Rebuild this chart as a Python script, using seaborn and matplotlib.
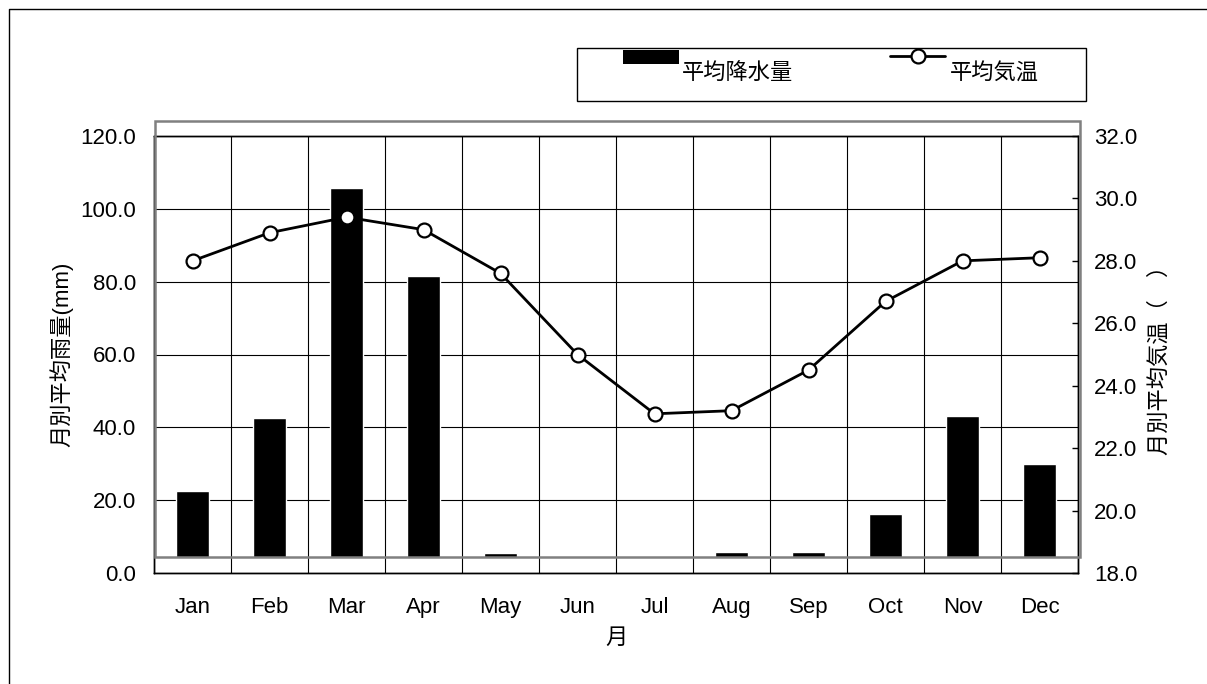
import numpy as np
import pandas as pd
import matplotlib
matplotlib.use("Agg")
import matplotlib.pyplot as plt
from matplotlib.patches import Rectangle
from matplotlib.lines import Line2D
from matplotlib.ticker import FormatStrFormatter
import seaborn as sns

# Monthly climate normals
months = ["Jan", "Feb", "Mar", "Apr", "May", "Jun",
          "Jul", "Aug", "Sep", "Oct", "Nov", "Dec"]
rainfall = [22.4, 42.7, 105.6, 81.6, 5.5, 0.0, 0.0, 5.8, 5.9, 16.2, 43.2, 30.0]
temperature = [28.0, 28.9, 29.4, 29.0, 27.6, 25.0, 23.1, 23.2, 24.5, 26.7, 28.0, 28.1]

rain_ticks = [0, 20, 40, 60, 80, 100, 120]
temp_ticks = [18, 20, 22, 24, 26, 28, 30, 32]

rain_label = "月別平均雨量(mm)"
temp_label = "月別平均気温（　）"
month_label = "月"
legend_rain = "平均降水量"
legend_temp = "平均気温"

sns.set_style("white")
plt.rcParams["font.family"] = ["Liberation Sans", "Noto Sans CJK JP"]
plt.rcParams["font.size"] = 16
plt.rcParams["text.color"] = "black"
plt.rcParams["axes.labelcolor"] = "black"
plt.rcParams["xtick.color"] = "black"
plt.rcParams["ytick.color"] = "black"

W, H = 1207, 684
fig = plt.figure(figsize=(W / 100, H / 100), dpi=100)


def fx(px):
    return px / W


def fy(py):
    return 1 - py / H


df = pd.DataFrame({"month": months, "rain": rainfall,
                   "temp": temperature, "pos": np.arange(len(months))})

ax = fig.add_axes([fx(154), fy(573), fx(1078) - fx(154), fy(136) - fy(573)])
sns.barplot(data=df, x="month", y="rain", color="black", saturation=1,
            width=0.44, ax=ax, zorder=2)

# plot-area frame (bars are clipped to it)
frame_xy = (fx(155), fy(557))
frame_w = fx(1080) - fx(155)
frame_h = fy(121) - fy(557)
clip_rect = Rectangle(frame_xy, frame_w, frame_h, transform=fig.transFigure)
for bar in ax.patches:
    bar.set_clip_path(clip_rect)

ax.set_ylim(0, 120)
ax.set_yticks(rain_ticks)
ax.yaxis.set_major_formatter(FormatStrFormatter("%.1f"))
ax.set_axisbelow(True)
ax.yaxis.grid(True, color="black", lw=0.8)
ax.set_xticks(np.arange(-0.5, len(months), 1), minor=True)
ax.xaxis.grid(True, which="minor", color="black", lw=0.8)
ax.tick_params(axis="x", which="both", length=0, pad=17, labelsize=16,
               labelcolor="black")
ax.tick_params(axis="y", length=0, pad=13, labelsize=16, labelcolor="black")
for s in ax.spines.values():
    s.set_color("black")
    s.set_linewidth(1)
    s.set_visible(True)

ax2 = ax.twinx()
sns.lineplot(data=df, x="pos", y="temp", ax=ax2, color="black", lw=2,
             marker="o", markersize=10, markerfacecolor="white",
             markeredgecolor="black", markeredgewidth=1.6, zorder=3)
ax2.set_ylim(18, 32)
ax2.set_yticks(temp_ticks)
ax2.yaxis.set_major_formatter(FormatStrFormatter("%.1f"))
ax2.tick_params(axis="y", direction="in", length=4.5, width=1,
                color="black", pad=11.5, labelsize=16, labelcolor="black")
ax2.grid(False)
for s in ax2.spines.values():
    s.set_color("black")
    s.set_linewidth(1)
ax.set_xlim(-0.5, len(months) - 0.5)

ax.set_xlabel(month_label, fontsize=16, va="center")
ax.xaxis.set_label_coords(0.501, -0.149)
ax.set_ylabel(rain_label, fontsize=16, va="center")
ax.yaxis.set_label_coords(-0.1006, 0.5)
ax2.set_ylabel(temp_label, fontsize=16, rotation=90, va="center")
ax2.yaxis.set_label_coords(1.0887, 0.5)

fig.add_artist(Rectangle(frame_xy, frame_w, frame_h, transform=fig.transFigure,
                         fill=False, edgecolor="#808080", lw=1.8, zorder=5))

# legend box
fig.add_artist(Rectangle((fx(577), fy(101)), fx(1086) - fx(577), fy(48) - fy(101),
                         transform=fig.transFigure, facecolor="white",
                         edgecolor="black", lw=1, zorder=5))
fig.add_artist(Rectangle((fx(623), fy(64)), fx(679) - fx(623), fy(50) - fy(64),
                         transform=fig.transFigure, facecolor="black",
                         edgecolor="black", lw=0, zorder=6))
fig.text(fx(682), fy(74), legend_rain, ha="left", va="center", fontsize=16, zorder=6)
fig.add_artist(Line2D([fx(890), fx(945)], [fy(56), fy(56)], transform=fig.transFigure,
                      color="black", lw=2, zorder=6))
fig.add_artist(Line2D([fx(918)], [fy(56)], transform=fig.transFigure, marker="o",
                      markersize=10, markerfacecolor="white", markeredgecolor="black",
                      markeredgewidth=1.6, lw=0, zorder=7))
fig.text(fx(950), fy(74), legend_temp, ha="left", va="center", fontsize=16, zorder=6)

# outer chart border (left and top edges)
fig.add_artist(Line2D([fx(9), fx(9), 1.0], [0.0, fy(9), fy(9)],
                      transform=fig.transFigure, color="black", lw=1))

fig.savefig("out.png", dpi=100)
